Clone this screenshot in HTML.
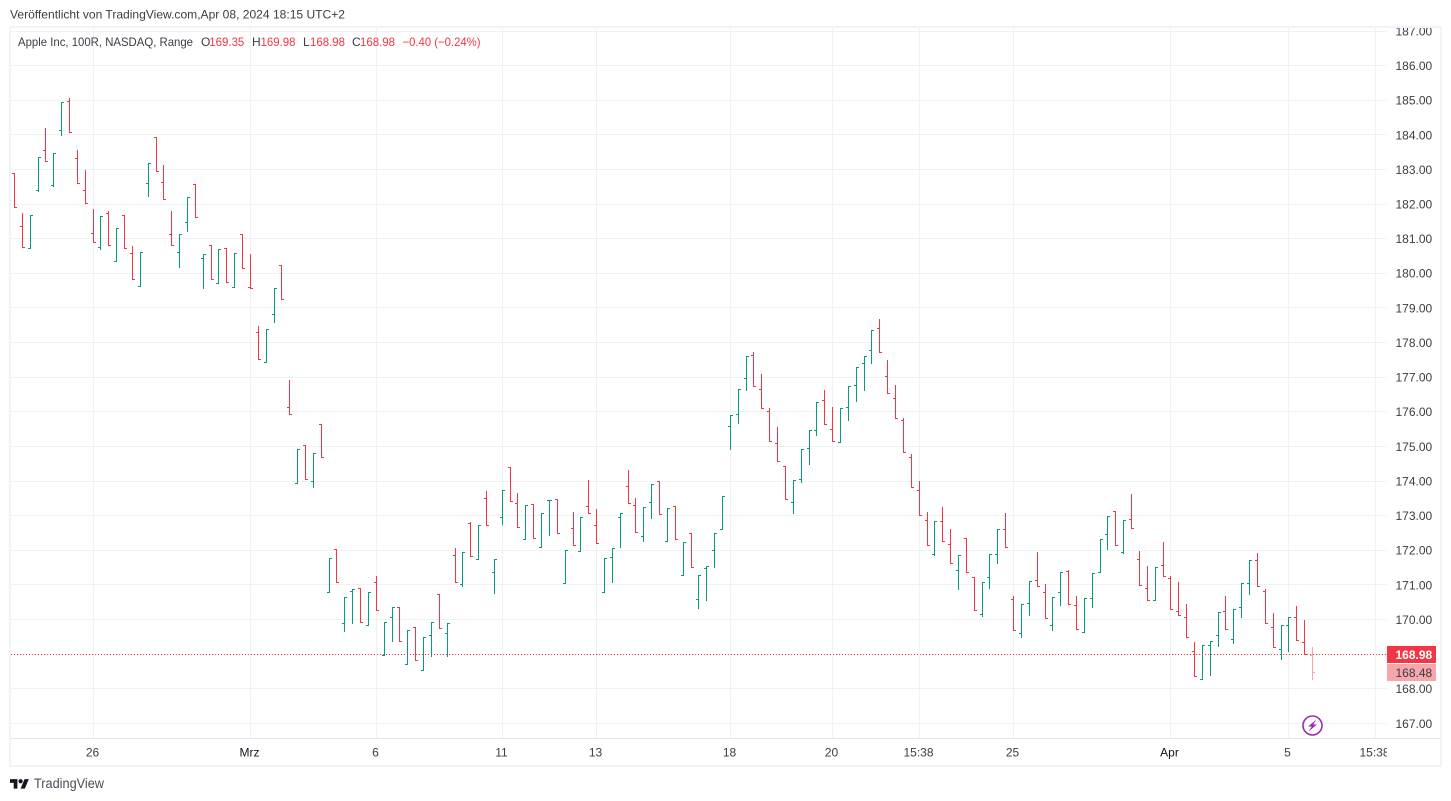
<!DOCTYPE html>
<html lang="de">
<head>
<meta charset="utf-8">
<title>Apple Inc, 100R, NASDAQ, Range</title>
<style>
html,body{margin:0;padding:0;background:#fff;width:1451px;height:801px;overflow:hidden}
svg{display:block}
text{font-family:"Liberation Sans",sans-serif;font-size:12px;fill:#3a3d45}
.red{fill:#f23645}
</style>
</head>
<body>
<svg id="chart" xmlns="http://www.w3.org/2000/svg" width="1451" height="801" viewBox="0 0 1451 801">
  <defs>
    <clipPath id="pane-clip"><rect x="11" y="28" width="1376" height="710"/></clipPath>
    <clipPath id="time-clip"><rect x="11" y="739" width="1376" height="26"/></clipPath>
    <clipPath id="price-clip"><rect x="1387" y="28" width="53" height="710"/></clipPath>
  </defs>
  <rect x="0" y="0" width="1451" height="801" fill="#ffffff"/>
  <text x="10" y="18.5" textLength="335" lengthAdjust="spacingAndGlyphs">Veröffentlicht von TradingView.com,Apr 08, 2024 18:15 UTC+2</text>
  <g id="grid" shape-rendering="crispEdges"></g>
  <g id="bars" clip-path="url(#pane-clip)" shape-rendering="crispEdges"></g>
  <line id="last-price-line" x1="11" x2="1387" stroke="#f23645" stroke-width="1" stroke-dasharray="1 2" shape-rendering="crispEdges"/>
  <g id="price-axis" clip-path="url(#price-clip)"></g>
  <g id="time-axis" clip-path="url(#time-clip)"></g>
  <rect x="11" y="738" width="1429" height="1" fill="#e0e3eb" shape-rendering="crispEdges"/>
  <g id="price-tags"></g>
  <g fill="#f0f3fa" shape-rendering="crispEdges">
    <rect x="9" y="26" width="1433" height="2"/>
    <rect x="9" y="765" width="1433" height="2"/>
    <rect x="9" y="26" width="2" height="741"/>
    <rect x="1440" y="26" width="2" height="741"/>
  </g>
  <g>
    <text x="18" y="46" textLength="175" lengthAdjust="spacingAndGlyphs">Apple Inc, 100R, NASDAQ, Range</text>
    <text x="201" y="46">O</text>
    <text class="red" x="209.3" y="46" textLength="35" lengthAdjust="spacingAndGlyphs">169.35</text>
    <text x="252" y="46">H</text>
    <text class="red" x="260.5" y="46" textLength="35" lengthAdjust="spacingAndGlyphs">169.98</text>
    <text x="303" y="46">L</text>
    <text class="red" x="310" y="46" textLength="35" lengthAdjust="spacingAndGlyphs">168.98</text>
    <text x="352" y="46">C</text>
    <text class="red" x="360" y="46" textLength="35" lengthAdjust="spacingAndGlyphs">168.98</text>
    <text class="red" x="402.5" y="46" textLength="78" lengthAdjust="spacingAndGlyphs">−0.40 (−0.24%)</text>
  </g>
  <g>
    <circle cx="1312.5" cy="725.5" r="9.5" fill="none" stroke="#9c27b0" stroke-width="1.6"/>
    <polygon points="1316.5,719.5 1308,726.5 1311.8,726.5 1308.5,731.5 1317,724.5 1313.2,724.5" fill="#9c27b0"/>
  </g>
  <g>
    <g transform="translate(10 777) scale(0.53)" fill="#131722">
      <path d="M14 22H7V11H0V4h14v18zM28 22h-8l7.5-18h8L28 22z"/>
      <circle cx="20" cy="8" r="4"/>
    </g>
    <text x="34" y="788" textLength="70" lengthAdjust="spacingAndGlyphs" style="font-size:13.5px;fill:#4a4d57">TradingView</text>
  </g>
</svg>
<script>
var opens = [
182.89,181.36,180.72,182.40,183.55,182.54,184.13,184.97,183.32,182.40,
181.16,180.75,181.73,180.35,181.68,180.58,179.63,182.60,183.93,182.63,
181.13,180.61,181.47,182.57,180.43,180.81,179.71,180.72,179.60,181.13,
179.58,178.30,177.43,178.82,180.23,176.13,173.94,175.03,173.99,175.64,
170.79,172.03,169.89,170.81,170.90,169.83,171.08,168.97,170.06,170.35,
168.71,169.78,168.53,169.54,170.73,169.60,171.86,171.02,172.78,171.74,
173.50,171.36,172.95,174.40,173.36,172.32,173.33,172.09,173.43,173.47,
171.05,172.64,171.97,173.27,172.72,170.79,171.80,172.95,173.85,173.30,
172.40,173.39,173.99,172.26,173.27,171.28,172.49,170.58,171.48,172.00,
172.61,175.58,175.93,176.97,177.63,176.65,176.01,175.09,174.42,173.39,
174.05,174.95,175.47,176.33,175.50,175.12,176.13,176.77,177.40,177.78,
178.41,177.02,176.39,175.76,174.69,173.73,172.87,171.88,172.84,172.17,
171.42,172.35,171.22,170.15,171.22,171.88,172.61,170.58,169.60,170.47,
171.13,170.79,169.83,170.79,171.39,170.41,169.63,170.61,171.36,172.46,
173.13,171.94,172.90,171.74,170.90,170.56,171.57,171.19,170.24,170.06,
169.08,168.27,169.26,169.54,170.24,169.43,170.35,171.05,171.71,170.81,
169.78,169.14,169.83,170.06,169.35,168.97];
var highs = [
182.89,181.73,181.68,183.35,184.19,183.47,184.94,185.06,183.55,182.98,
181.85,181.65,181.79,181.30,181.68,180.78,180.61,183.18,183.93,183.12,
181.79,181.13,182.20,182.57,180.55,180.81,180.69,180.72,180.58,181.13,
180.55,178.47,178.38,179.57,180.23,176.91,174.92,175.03,174.80,175.64,
171.77,172.03,170.64,170.87,170.90,170.79,171.25,169.92,170.35,170.35,
169.69,169.78,169.49,169.92,170.73,169.89,172.06,171.94,172.81,172.72,
173.70,171.74,173.73,174.40,173.65,173.30,173.33,173.07,173.44,173.47,
172.00,173.10,172.95,174.02,173.18,171.77,172.06,173.07,174.31,173.50,
173.24,173.91,173.99,173.21,173.27,172.23,172.49,171.28,171.54,172.49,
173.56,175.90,176.65,177.60,177.72,177.08,176.10,175.55,174.42,174.02,
174.92,175.47,176.28,176.62,176.13,176.10,176.74,177.29,177.60,178.35,
178.67,177.49,176.77,175.81,174.77,173.99,173.10,172.84,173.24,172.61,
171.86,172.35,171.22,171.08,171.88,172.61,173.07,170.67,170.44,171.10,
171.94,171.02,170.64,171.36,171.42,170.67,170.61,171.34,172.32,172.98,
173.13,172.87,173.62,171.97,171.54,171.51,172.23,171.25,171.08,170.44,
169.34,169.26,169.37,170.21,170.67,170.30,171.05,171.71,171.91,170.87,
170.18,169.83,170.06,170.38,169.98,169.20];
var lows = [
181.91,180.75,180.72,182.37,183.24,182.51,183.99,184.07,182.60,182.02,
180.90,180.69,180.81,180.35,180.72,179.83,179.63,182.23,182.95,182.14,
180.81,180.17,181.21,181.62,179.57,179.83,179.71,179.74,179.60,180.14,
179.57,177.52,177.43,178.59,179.25,175.93,173.94,174.05,173.82,174.69,
170.79,171.08,169.66,169.89,169.92,169.83,170.27,168.97,169.37,169.37,
168.71,168.82,168.53,168.94,169.75,168.94,171.08,170.96,171.83,171.74,
172.72,170.76,172.75,173.42,172.66,172.32,172.35,172.09,172.43,172.49,
171.05,172.14,171.97,173.07,172.20,170.79,171.08,172.09,173.36,172.52,
172.26,172.92,173.04,172.26,172.32,171.28,171.51,170.32,170.56,171.51,
172.61,174.92,175.67,176.62,176.74,176.10,175.15,174.57,173.47,173.07,
173.96,174.49,175.32,175.64,175.15,175.12,175.76,176.30,176.62,177.40,
177.72,176.53,175.81,174.83,173.82,173.01,172.14,171.86,172.26,171.62,
170.87,171.36,170.27,170.09,170.90,171.62,172.09,169.69,169.49,170.12,
170.96,170.03,169.69,170.41,170.44,169.72,169.63,170.35,171.36,172.03,
172.14,171.91,172.64,170.99,170.56,170.56,171.25,170.30,170.12,169.49,
168.36,168.27,168.39,169.23,169.72,169.31,170.06,170.73,170.96,169.89,
169.20,168.85,169.08,169.40,168.98,168.27];
var closes = [
181.91,180.75,181.68,183.35,183.24,183.47,184.94,184.07,182.60,182.02,
180.90,181.65,180.81,181.30,180.72,179.83,180.61,183.18,182.95,182.14,
180.81,181.13,182.20,181.62,180.55,179.83,180.69,179.74,180.58,180.14,
179.57,177.52,178.38,179.57,179.25,175.93,174.92,174.05,174.80,174.69,
171.77,171.08,170.64,170.87,169.92,170.79,170.27,169.92,170.35,169.37,
169.69,168.82,169.49,169.92,169.75,169.89,171.08,171.94,171.83,172.72,
172.72,171.74,173.73,173.42,172.66,173.30,172.35,173.07,173.44,172.49,
172.00,172.14,172.95,173.07,172.20,171.77,172.06,173.07,173.36,172.52,
173.24,173.91,173.04,173.21,172.32,172.23,171.51,171.28,171.54,172.49,
173.56,175.90,176.65,177.60,176.74,176.10,175.15,174.57,173.47,174.02,
174.92,175.47,176.28,175.64,175.15,176.10,176.74,177.29,177.60,178.35,
177.72,176.53,175.81,174.83,173.82,173.01,172.14,172.84,172.26,171.62,
171.86,171.36,170.27,171.08,171.88,172.61,172.09,169.69,170.44,171.10,
170.96,170.03,170.64,171.36,170.44,169.72,170.61,171.34,172.32,172.98,
172.14,172.87,172.64,170.99,170.56,171.51,171.25,170.30,170.12,169.49,
168.36,169.26,169.37,170.21,169.72,170.30,171.05,171.71,170.96,169.89,
169.20,169.83,170.06,169.40,168.98,168.48];
var priceTicks = [187,186,185,184,183,182,181,180,179,178,177,176,175,174,173,172,171,170,168,167];
var gridPrices = [187,186,185,184,183,182,181,180,179,178,177,176,175,174,173,172,171,170,169,168,167];
var timeLabels = ["26","Mrz","6","11","13","18","20","15:38","25","Apr","5","15:38"];
var timeLabelBars = [10,30,46,62,74,91,104,115,127,147,162,173];
var boldTimeLabels = ["Mrz","Apr"];
var lastClose = 168.98;
var liveClose = 168.48;

var NS = 'http://www.w3.org/2000/svg';
var UP = '#089981', DOWN = '#f23645';
function xOf(i){ return 14.45 + 7.867 * i; }
function yOf(p){ return 550.3 + (172 - p) * 34.62; }
function svgEl(tag, parent){
  var el = document.createElementNS(NS, tag);
  parent.appendChild(el);
  return el;
}
var grid = document.getElementById('grid');
gridPrices.forEach(function(p){
  var r = svgEl('rect', grid);
  
  
  r.setAttribute('x', 11);
  r.setAttribute('y', Math.floor(yOf(p)));
  r.setAttribute('width', 1376);
  r.setAttribute('height', 1);
  r.setAttribute('fill', '#f0f1f3');
});
timeLabelBars.forEach(function(b){
  var r = svgEl('rect', grid);
  
  
  r.setAttribute('x', Math.floor(xOf(b)));
  r.setAttribute('y', 28);
  r.setAttribute('width', 1);
  r.setAttribute('height', 710);
  r.setAttribute('fill', '#f0f1f3');
});
var barsG = document.getElementById('bars');
opens.forEach(function(o, i){
  var x = Math.floor(xOf(i));
  var top = Math.floor(yOf(highs[i]));
  var bot = Math.floor(yOf(lows[i]));
  var oy = Math.floor(yOf(o));
  var cy = Math.floor(yOf(closes[i]));
  var d = 'M' + x + ' ' + top + 'h1V' + (bot + 1) + 'h-1Z' +
          'M' + (x - 2) + ' ' + oy + 'h2v1h-2Z' +
          'M' + (x + 1) + ' ' + cy + 'h2v1h-2Z';
  var bar = svgEl('path', barsG);
  
  
  bar.setAttribute('d', d);
  bar.setAttribute('fill', closes[i] >= o ? UP : DOWN);
  if (i === opens.length - 1) bar.setAttribute('fill-opacity', '0.45');
});
var lineY = Math.floor(yOf(lastClose)) + 0.5;
var priceLine = document.getElementById('last-price-line');
priceLine.setAttribute('y1', lineY);
priceLine.setAttribute('y2', lineY);

var priceAxis = document.getElementById('price-axis');
priceTicks.forEach(function(p){
  var t = svgEl('text', priceAxis);
  
  
  t.setAttribute('x', 1395.5);
  t.setAttribute('y', yOf(p) + 4.4);
  t.textContent = p.toFixed(2);
});
var timeAxis = document.getElementById('time-axis');
timeLabels.forEach(function(label, k){
  var t = svgEl('text', timeAxis);
  
  
  t.setAttribute('x', Math.floor(xOf(timeLabelBars[k])) - 0.5);
  t.setAttribute('y', 756.5);
  t.setAttribute('text-anchor', 'middle');
  if (boldTimeLabels.indexOf(label) >= 0) t.setAttribute('style', 'fill:#131722');
  t.textContent = label;
});
var tags = document.getElementById('price-tags');
var closeBoxY = Math.round(yOf(lastClose)) - 9;
var closeBox = svgEl('rect', tags);


closeBox.setAttribute('x', 1387);
closeBox.setAttribute('y', closeBoxY);
closeBox.setAttribute('width', 49);
closeBox.setAttribute('height', 17);
closeBox.setAttribute('fill', '#f23645');
var closeText = svgEl('text', tags);


closeText.setAttribute('x', 1395.5);
closeText.setAttribute('y', closeBoxY + 13);
closeText.setAttribute('style', 'fill:#ffffff;font-weight:bold');
closeText.textContent = lastClose.toFixed(2);
var liveBoxY = closeBoxY + 18;
var liveBox = svgEl('rect', tags);


liveBox.setAttribute('x', 1387);
liveBox.setAttribute('y', liveBoxY);
liveBox.setAttribute('width', 49);
liveBox.setAttribute('height', 17);
liveBox.setAttribute('fill', '#f7a6ac');
var liveText = svgEl('text', tags);


liveText.setAttribute('x', 1395.5);
liveText.setAttribute('y', liveBoxY + 13);
liveText.textContent = liveClose.toFixed(2);
</script>
</body>
</html>
